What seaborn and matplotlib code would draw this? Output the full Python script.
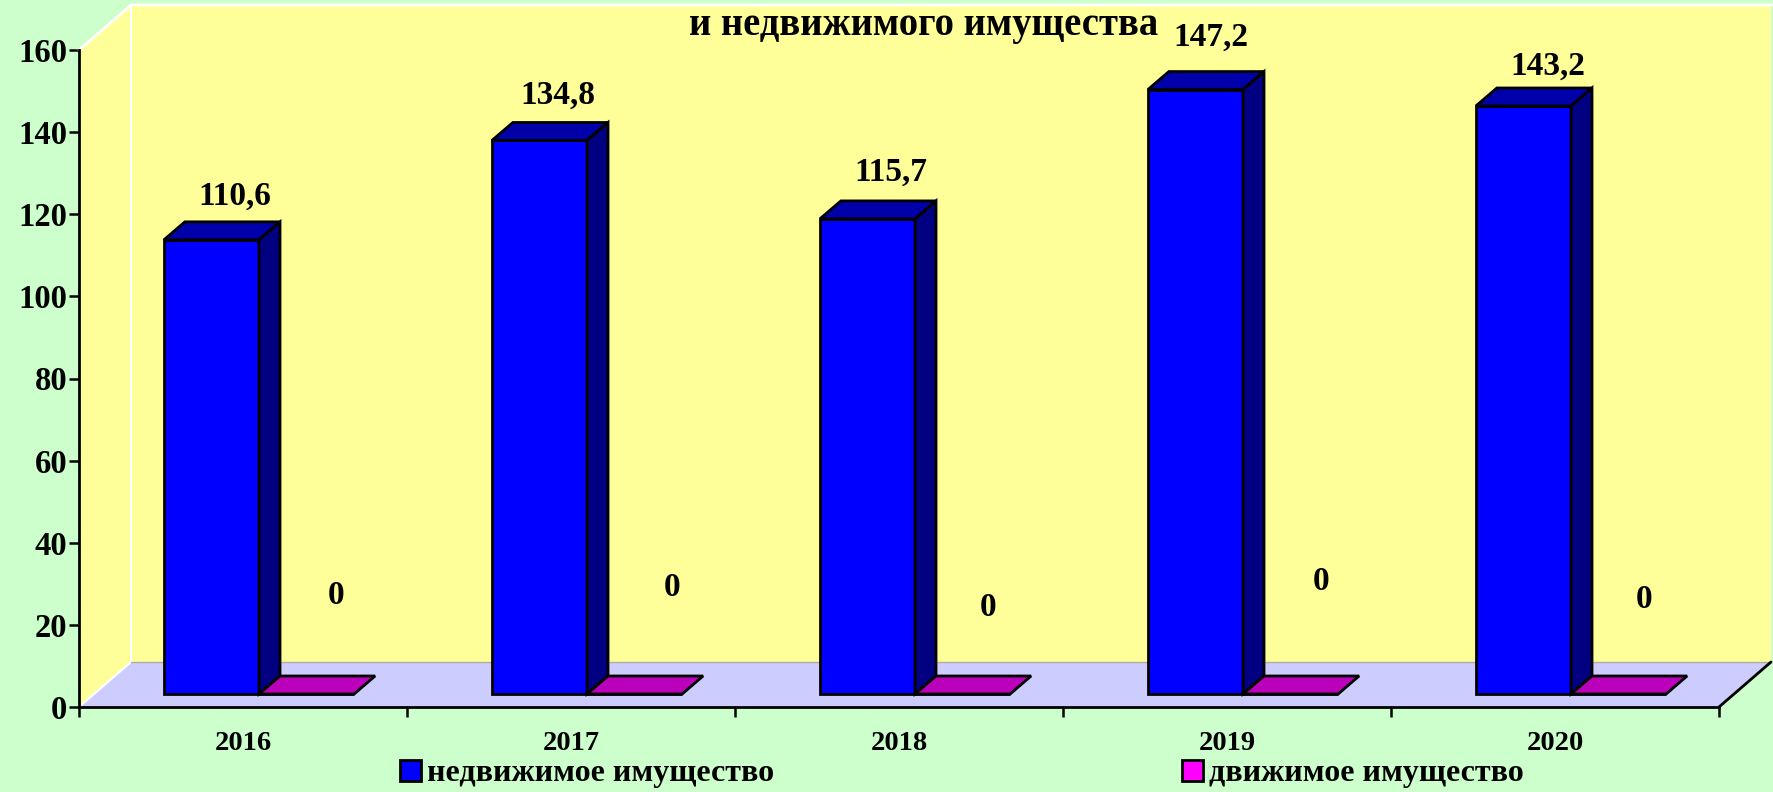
import matplotlib
matplotlib.use("Agg")
import matplotlib.pyplot as plt
from matplotlib.patches import Polygon, Patch
from matplotlib.transforms import Affine2D, IdentityTransform
import pandas as pd
import seaborn as sns

years = ["2016", "2017", "2018", "2019", "2020"]
real_estate = [110.6, 134.8, 115.7, 147.2, 143.2]
movable = [0, 0, 0, 0, 0]
real_label = ["110,6", "134,8", "115,7", "147,2", "143,2"]
movable_label = ["0", "0", "0", "0", "0"]
series_names = ["недвижимое имущество", "движимое имущество"]
title_text = "и недвижимого имущества"
y_ticks = [0, 20, 40, 60, 80, 100, 120, 140, 160]

# hand placed labels in the original, pixels from top left
real_label_xy = [(235, 196), (558, 95), (891, 172), (1211, 37), (1548, 66)]
zero_label_xy = [(336, 596), (672, 587), (988, 608), (1321, 582), (1644, 600)]

W, H = 1773, 792
BG = "#CCFFCC"
WALL = "#FFFF99"
FLOOR = "#CCCCFF"
FONT = "Liberation Serif"

sns.set_style("white")
plt.rcParams["font.family"] = FONT
plt.rcParams["font.weight"] = "bold"
plt.rcParams["text.color"] = "black"
plt.rcParams["xtick.color"] = "black"
plt.rcParams["ytick.color"] = "black"

df = pd.DataFrame({
    "year": years * 2,
    "value": real_estate + movable,
    "kind": [series_names[0]] * 5 + [series_names[1]] * 5,
})

fig = plt.figure(figsize=(W / 100, H / 100), dpi=100, facecolor=BG)
ax = fig.add_axes([79 / W, (H - 707) / H, 1640 / W, 657 / H])
ax.patch.set_alpha(0)

sns.barplot(data=df, x="year", y="value", hue="kind", ax=ax, width=0.58, saturation=1,
            palette=["#0000FF", "#FF00FF"], edgecolor="black", linewidth=2,
            legend=False, zorder=3)
ax.set_xlim(-0.5, 4.5)
ax.set_ylim(0, 160)
ax.set_xlabel("")
ax.set_ylabel("")

# walls and floor of the fake 3d box
dx, dy = 52, 45
x0, x1 = 79, 1719
y0, y1 = H - 707, H - 50
def box(points, **kw):
    ax.add_patch(Polygon(points, closed=True, transform=IdentityTransform(), clip_on=False, **kw))

box([(x0 + dx, y0 + dy), (x1 + dx, y0 + dy), (x1 + dx, y1 + dy), (x0 + dx, y1 + dy)],
    facecolor=WALL, edgecolor="none", zorder=0)
box([(x0, y0), (x0 + dx, y0 + dy), (x0 + dx, y1 + dy), (x0, y1)],
    facecolor=WALL, edgecolor="none", zorder=0)
box([(x0, y0), (x1, y0), (x1 + dx, y0 + dy), (x0 + dx, y0 + dy)],
    facecolor=FLOOR, edgecolor="none", zorder=0.5)
ax.plot([x0, x0 + dx, x0 + dx], [y0, y0 + dy, y1 + dy], color="white", lw=1.5,
        transform=IdentityTransform(), clip_on=False, zorder=0.6)
ax.plot([x0, x0 + dx, W], [y1, y1 + dy, y1 + dy], color="white", lw=2,
        transform=IdentityTransform(), clip_on=False, zorder=0.6)
ax.plot([x0 + dx, x1 + dx], [y0 + dy, y0 + dy], color="#B0B0A0", lw=1,
        transform=IdentityTransform(), clip_on=False, zorder=0.6)
ax.plot([x1, x1 + dx], [y0, y0 + dy], color="black", lw=2,
        transform=IdentityTransform(), clip_on=False, zorder=0.6)

# bars sit on the floor, shifted from the axis, with side and top faces added
shift = Affine2D().translate(16, 13)
bar_dx, bar_dy = 21, 18
faces = [("#0000AA", "#000080"), ("#BB00BB", "#BB00BB")]
for cont, (top_col, side_col) in zip(ax.containers, faces):
    for bar in cont:
        bar.set_transform(ax.transData + shift)
        bar.set_clip_on(False)
        xa, xb = bar.get_x(), bar.get_x() + bar.get_width()
        (pxa, pya), (pxb, pyb) = (ax.transData + shift).transform([(xa, 0), (xb, bar.get_height())])
        box([(pxa, pyb), (pxb, pyb), (pxb + bar_dx, pyb + bar_dy), (pxa + bar_dx, pyb + bar_dy)],
            facecolor=top_col, edgecolor="black", linewidth=2, zorder=3)
        if bar.get_height() > 0:
            box([(pxb, pya), (pxb + bar_dx, pya + bar_dy), (pxb + bar_dx, pyb + bar_dy), (pxb, pyb)],
                facecolor=side_col, edgecolor="black", linewidth=2, zorder=3)

# axes
sns.despine(ax=ax)
for side in ["left", "bottom"]:
    ax.spines[side].set_linewidth(2)
    ax.spines[side].set_color("black")
    ax.spines[side].set_zorder(4)
ax.set_yticks(y_ticks)
ax.set_xticks(range(5), years)
ax.set_xticks([i - 0.5 for i in range(6)], minor=True)
ax.tick_params(axis="y", length=7.5, width=1.8, labelsize=23.5, pad=1, left=True)
ax.tick_params(axis="x", which="major", length=0, labelsize=20.5, pad=17)
ax.tick_params(axis="x", which="minor", length=7.5, width=1.8, bottom=True)

# data labels
for txt, (px, py) in zip(real_label, real_label_xy):
    fig.text(px / W, 1 - py / H, txt, ha="center", va="center", fontsize=24)
for txt, (px, py) in zip(movable_label, zero_label_xy):
    fig.text(px / W, 1 - py / H, txt, ha="center", va="center", fontsize=24)

fig.text(924 / W, 1 - 25 / H, title_text, ha="center", va="center", fontsize=27.8)

handles = [Patch(facecolor="#0000FF", edgecolor="black", linewidth=2),
           Patch(facecolor="#FF00FF", edgecolor="black", linewidth=2)]
fig.legend(handles, series_names, ncol=2, frameon=False, loc="center",
           bbox_to_anchor=(962 / W, 1 - 774 / H), fontsize=23,
           handlelength=0.65, handleheight=0.65, handletextpad=0.2,
           columnspacing=12.75, labelspacing=0, borderpad=0)

fig.savefig("out.png", dpi=100, facecolor=BG)
